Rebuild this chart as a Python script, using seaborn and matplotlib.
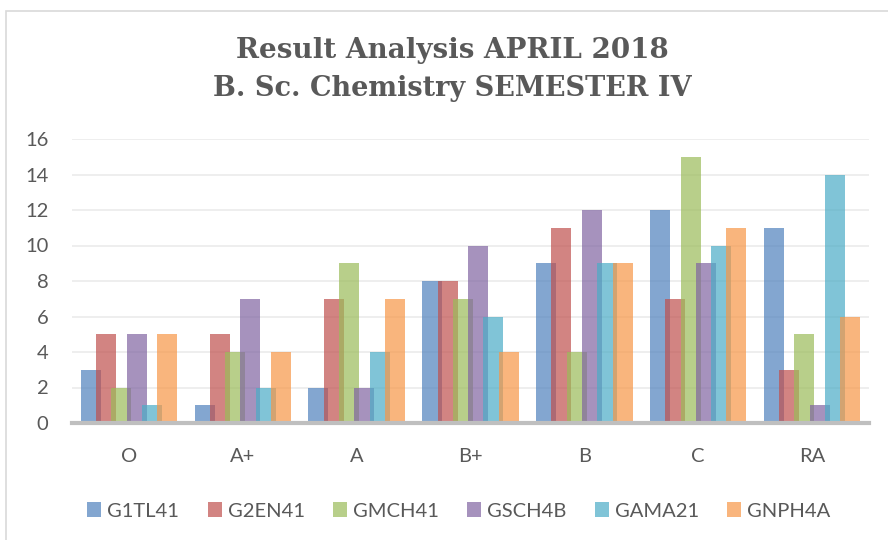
import matplotlib
matplotlib.use("Agg")
import matplotlib.pyplot as plt
from matplotlib.patches import Rectangle
import pandas as pd
import seaborn as sns

grades = ["O", "A+", "A", "B+", "B", "C", "RA"]
g1tl41 = [3, 1, 2, 8, 9, 12, 11]
g2en41 = [5, 5, 7, 8, 11, 7, 3]
gmch41 = [2, 4, 9, 7, 4, 15, 5]
gsch4b = [5, 7, 2, 10, 12, 9, 1]
gama21 = [1, 2, 4, 6, 9, 10, 14]
gnph4a = [5, 4, 7, 4, 9, 11, 6]

papers = ["G1TL41", "G2EN41", "GMCH41", "GSCH4B", "GAMA21", "GNPH4A"]
colors = ["#4F81BD", "#C0504D", "#9BBB59", "#8064A2", "#4BACC6", "#F79646"]
yticks = [0, 2, 4, 6, 8, 10, 12, 14, 16]

series = [g1tl41, g2en41, gmch41, gsch4b, gama21, gnph4a]
rows = []
for paper, vals in zip(papers, series):
    for g, v in zip(grades, vals):
        rows.append({"Grade": g, "Paper": paper, "Students": v})
df = pd.DataFrame(rows)

sns.set_theme(style="white")
plt.rcParams["font.family"] = ["Lato", "DejaVu Sans"]
text_color = "#595959"

W, H = 888, 540
fig = plt.figure(figsize=(W / 100, H / 100), dpi=100)
ax = fig.add_axes([72 / W, (H - 423) / H, (869 - 72) / W, (423 - 139) / H])

sns.barplot(data=df, x="Grade", y="Students", hue="Paper", order=grades,
            hue_order=papers, palette=colors, saturation=1, width=0.805,
            alpha=0.7, linewidth=0, edgecolor="none", ax=ax)

# widen each bar so neighbours overlap slightly, keeping the group centred
bar_w = 0.175
for cont in ax.containers:
    for p in cont.patches:
        step = p.get_width()
        p.set_x(p.get_x() - (bar_w - step) / 2)
        p.set_width(bar_w)
        p.set_edgecolor("none")
        p.set_linewidth(0)

ax.set_xlim(-0.5, len(grades) - 0.5)
ax.set_ylim(0, 16)
ax.set_yticks(yticks)
ax.set_yticklabels([str(t) for t in yticks])
ax.grid(axis="y", color="#EDEDED", linewidth=1.3)
ax.set_axisbelow(True)
for s in ["top", "right", "left"]:
    ax.spines[s].set_visible(False)
ax.spines["bottom"].set_color("#BFBFBF")
ax.spines["bottom"].set_linewidth(3)
ax.tick_params(axis="both", length=0, labelsize=14.5, colors=text_color)
ax.tick_params(axis="y", pad=17)
ax.tick_params(axis="x", pad=18)
ax.set_xlabel("")
ax.set_ylabel("")

handles, labels = ax.get_legend_handles_labels()
ax.get_legend().remove()
for h in handles:
    h.set_edgecolor("none")
fig.legend(handles, labels, loc="center", bbox_to_anchor=(459 / W, 1 - 511 / H),
           ncol=6, frameon=False, handlelength=0.7, handleheight=0.7,
           handletextpad=0.3, columnspacing=1.4, fontsize=14.5,
           labelcolor=text_color)

title_kw = dict(ha="center", va="center", fontsize=20, fontweight="bold",
                family="DejaVu Serif", color=text_color)
fig.text(452 / W, 1 - 51 / H, "Result Analysis APRIL 2018", **title_kw)
fig.text(452 / W, 1 - 88 / H, "B. Sc. Chemistry SEMESTER IV",
         **{**title_kw, "fontsize": 19.5})

# chart area outline
fig.patches.append(Rectangle((6 / W, -0.1), 1.1, 1 - 11 / H + 0.1,
                             transform=fig.transFigure, fill=False,
                             edgecolor="#D9D9D9", linewidth=1.2))

fig.savefig("out.png", dpi=100)
